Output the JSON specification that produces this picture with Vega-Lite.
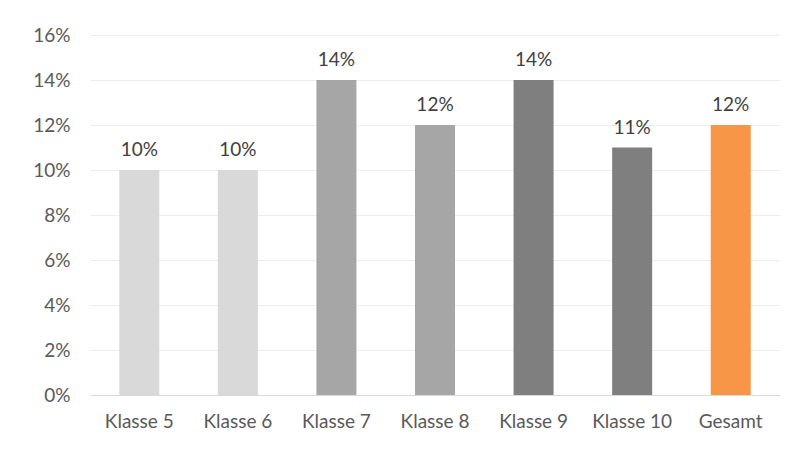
{
  "$schema": "https://vega.github.io/schema/vega-lite/v6.json",
  "width": 690,
  "height": 360,
  "autosize": {"type": "none"},
  "padding": {"left": 90, "top": 35, "right": 17, "bottom": 57},
  "background": "white",
  "config": {
    "view": {"stroke": null},
    "font": "Lato",
    "axis": {"labelFont": "Lato", "labelColor": "#595959", "labelFontSize": 19}
  },
  "data": {
    "values": [
      {"klasse": "Klasse 5", "anteil": 0.10},
      {"klasse": "Klasse 6", "anteil": 0.10},
      {"klasse": "Klasse 7", "anteil": 0.14},
      {"klasse": "Klasse 8", "anteil": 0.12},
      {"klasse": "Klasse 9", "anteil": 0.14},
      {"klasse": "Klasse 10", "anteil": 0.11},
      {"klasse": "Gesamt", "anteil": 0.12}
    ]
  },
  "encoding": {
    "x": {
      "field": "klasse",
      "type": "nominal",
      "sort": null,
      "scale": {"paddingInner": 0.594, "paddingOuter": 0.297},
      "axis": {
        "title": null,
        "labelAngle": 0,
        "ticks": false,
        "domainColor": "#D9D9D9",
        "domainWidth": 1,
        "labelPadding": 17,
        "grid": false
      }
    },
    "y": {
      "field": "anteil",
      "type": "quantitative",
      "scale": {"domain": [0, 0.16], "nice": false},
      "axis": {
        "title": null,
        "format": ".0%",
        "values": [0, 0.02, 0.04, 0.06, 0.08, 0.1, 0.12, 0.14, 0.16],
        "domain": false,
        "ticks": false,
        "labelPadding": 20,
        "gridColor": "#EEEEEE",
        "gridWidth": 1
      }
    }
  },
  "layer": [
    {
      "mark": {"type": "bar"},
      "encoding": {
        "color": {
          "field": "klasse",
          "type": "nominal",
          "legend": null,
          "scale": {
            "domain": ["Klasse 5", "Klasse 6", "Klasse 7", "Klasse 8", "Klasse 9", "Klasse 10", "Gesamt"],
            "range": ["#D9D9D9", "#D9D9D9", "#A6A6A6", "#A6A6A6", "#7F7F7F", "#7F7F7F", "#F79646"]
          }
        }
      }
    },
    {
      "mark": {"type": "text", "baseline": "alphabetic", "dy": -14, "fontSize": 19, "color": "#404040", "font": "Lato"},
      "encoding": {
        "text": {"field": "anteil", "type": "quantitative", "format": ".0%"}
      }
    }
  ]
}
